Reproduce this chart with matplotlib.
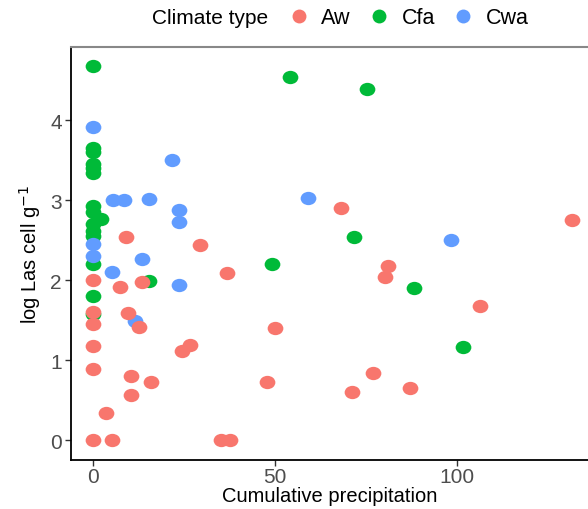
import matplotlib
matplotlib.use("Agg")
import matplotlib.pyplot as plt
from matplotlib.path import Path
from matplotlib.transforms import Affine2D
from matplotlib.lines import Line2D

plt.rcParams['font.family'] = ['Liberation Sans', 'DejaVu Sans']

# values
aw_x = [0, 0, 0, 0, 0, 0, 5.2, 3.4, 8.9, 29.5, 36.7, 7.3, 13.3, 9.5, 12.6, 26.6,
        24.5, 10.4, 15.9, 10.4, 35.1, 37.6, 68.1, 131.7, 81.2, 80.2, 106.4, 50.0,
        77.0, 47.8, 87.1, 71.1]
aw_y = [2.0, 1.61, 1.45, 1.18, 0.89, 0.0, 0.0, 0.34, 2.54, 2.44, 2.09, 1.92, 1.98,
        1.59, 1.415, 1.19, 1.115, 0.81, 0.735, 0.57, 0.0, 0.0, 2.91, 2.76, 2.18,
        2.04, 1.68, 1.41, 0.84, 0.73, 0.66, 0.60]

cfa_x = [0, 0, 0, 0, 0, 0, 0, 0, 2.2, 0, 0, 0, 0, 0, 0, 15.4, 54.1, 75.2, 71.7,
         49.1, 88.3, 101.8]
cfa_y = [4.68, 3.66, 3.60, 3.46, 3.40, 3.34, 2.93, 2.85, 2.77, 2.70, 2.62, 2.56,
         2.21, 1.80, 1.58, 1.99, 4.54, 4.39, 2.54, 2.21, 1.91, 1.165]

cwa_x = [0, 0, 0, 5.5, 8.5, 15.4, 21.6, 23.6, 23.6, 13.5, 5.2, 23.6, 11.5, 59.1, 98.3]
cwa_y = [3.92, 2.46, 2.30, 3.0, 3.0, 3.02, 3.5, 2.885, 2.735, 2.27, 2.11, 1.94,
         1.49, 3.03, 2.50]

groups = ["Aw", "Cfa", "Cwa"]
colors = {"Aw": "#F8766D", "Cfa": "#00BA38", "Cwa": "#619CFF"}

# the reference is stretched sideways, so points are slightly wide ellipses
ell = Path.unit_circle().transformed(Affine2D().scale(1.18, 1.0))

fig = plt.figure(figsize=(5.88, 5.10), dpi=100)
ax = fig.add_axes([0.1207, 0.0967, 0.8793, 0.8098])

ax.scatter(cfa_x, cfa_y, s=128, marker=ell, color=colors["Cfa"], linewidths=0, zorder=2)
ax.scatter(cwa_x, cwa_y, s=128, marker=ell, color=colors["Cwa"], linewidths=0, zorder=3)
ax.scatter(aw_x, aw_y, s=128, marker=ell, color=colors["Aw"], linewidths=0, zorder=4)

ax.set_xlim(-6.1, 136.1)
ax.set_ylim(-0.24, 4.92)
ax.set_xticks([0, 50, 100])
ax.set_yticks([0, 1, 2, 3, 4])
ax.tick_params(labelsize=15, labelcolor="#4D4D4D", color="#333333", length=4, width=1)
ax.tick_params(axis="x", pad=1.5)
ax.tick_params(axis="y", pad=2.5)

ax.spines["right"].set_visible(False)
ax.spines["top"].set_color("#888888")
ax.spines["top"].set_linewidth(1.5)
ax.spines["left"].set_linewidth(1.3)
ax.spines["bottom"].set_linewidth(1.3)

ax.set_xlabel("Cumulative precipitation", fontsize=14.5, labelpad=0)
ax.set_ylabel("log Las cell g$^{-1}$", fontsize=14.5, labelpad=5)

fig.text(152 / 588, 1 - 19 / 510, "Climate type", fontsize=15, va="center", ha="left")
handles = [Line2D([], [], linestyle="none", marker="o", markersize=10,
                  markerfacecolor=colors[g], markeredgewidth=0) for g in groups]
fig.legend(handles, groups, loc="center left", bbox_to_anchor=(288 / 588, 1 - 19 / 510),
           ncol=3, frameon=False, fontsize=15.5, handlelength=1.0, handletextpad=0.55,
           columnspacing=0.8, borderpad=0, borderaxespad=0)

fig.savefig("out.png", dpi=100)
